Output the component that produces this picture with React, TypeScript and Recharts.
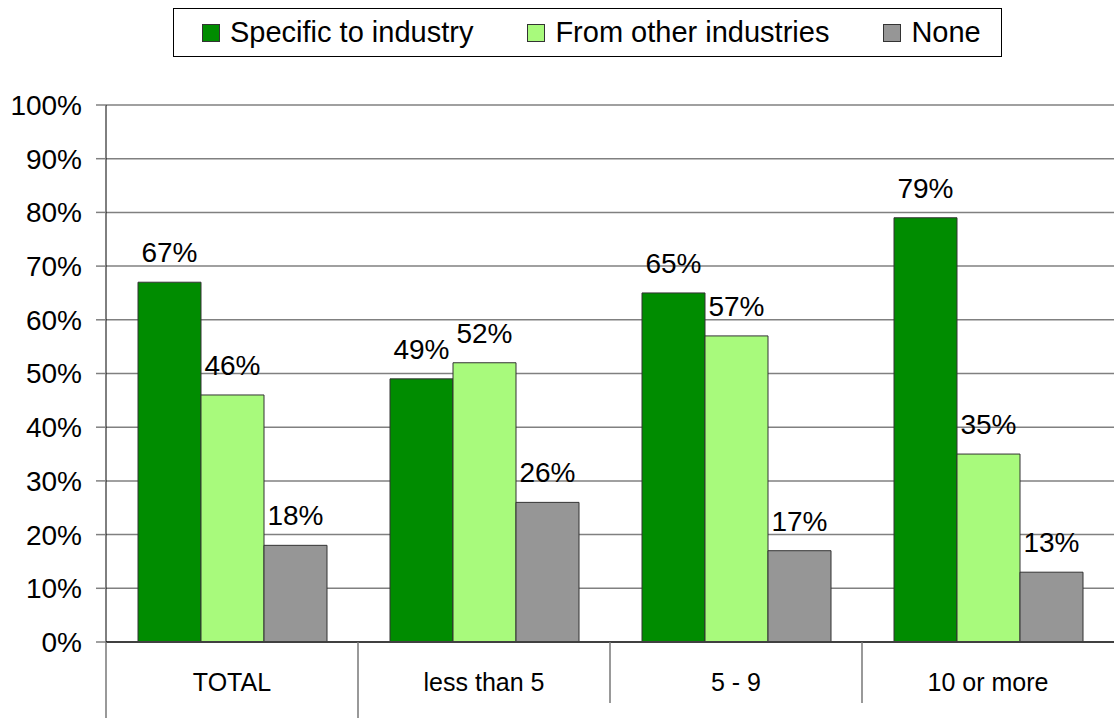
import { BarChart, Bar, XAxis, YAxis, CartesianGrid, LabelList } from 'recharts'

const categories = ['TOTAL', 'less than 5', '5 - 9', '10 or more']
const specificValues = [67, 49, 65, 79]
const otherValues = [46, 52, 57, 35]
const noneValues = [18, 26, 17, 13]
const yTicks = [0, 10, 20, 30, 40, 50, 60, 70, 80, 90, 100]

const seriesInfo = [
  { key: 'specific', name: 'Specific to industry', color: '#008c00' },
  { key: 'other', name: 'From other industries', color: '#a8fa7c' },
  { key: 'none', name: 'None', color: '#969696' },
]

const CHART_W = 1114
const CHART_H = 718
const Y_AXIS_W = 106
const FONT = '"Liberation Sans", Arial, sans-serif'

const chartData = categories.map((name, i) => ({
  name,
  specific: specificValues[i],
  other: otherValues[i],
  none: noneValues[i],
}))

const bandWidth = (CHART_W - Y_AXIS_W) / categories.length

function CategoryTick(props: any) {
  const { x, y, payload, index } = props
  const left = x - bandWidth / 2
  // first two separators run to the bottom edge, the others stop a bit shorter
  const lineLen = index < 2 ? 76 : 61
  return (
    <g>
      <line x1={left} y1={y} x2={left} y2={y + lineLen} stroke="#777" strokeWidth={1.5} />
      <text x={x} y={y + 49} textAnchor="middle" fontSize={25} fill="#000" fontFamily={FONT}>
        {payload.value}
      </text>
    </g>
  )
}

function ChartLegend() {
  return (
    <div
      style={{
        position: 'absolute',
        left: 173,
        top: 8,
        width: 829,
        height: 49,
        boxSizing: 'border-box',
        border: '1.5px solid #000',
        display: 'flex',
        alignItems: 'center',
        paddingLeft: 28,
        gap: 54,
        background: '#fff',
      }}
    >
      {seriesInfo.map(s => (
        <div key={s.key} style={{ display: 'flex', alignItems: 'center' }}>
          <div
            style={{
              width: 18,
              height: 18,
              boxSizing: 'border-box',
              background: s.color,
              border: '1.5px solid #333',
              marginRight: 10,
            }}
          />
          <span style={{ fontSize: 29, color: '#000', lineHeight: 1 }}>{s.name}</span>
        </div>
      ))}
    </div>
  )
}

export default function App() {
  return (
    <div
      style={{
        position: 'absolute',
        left: 0,
        top: 0,
        width: CHART_W,
        height: CHART_H,
        background: '#fff',
        fontFamily: FONT,
        overflow: 'hidden',
      }}
    >
      <BarChart
        width={CHART_W}
        height={CHART_H}
        data={chartData}
        margin={{ top: 105, right: 0, bottom: 0, left: 0 }}
        barCategoryGap={32}
        barGap={0}
      >
        <CartesianGrid vertical={false} stroke="#808080" strokeWidth={1.5} />
        <XAxis
          dataKey="name"
          height={76}
          axisLine={{ stroke: '#404040', strokeWidth: 2 }}
          tickLine={false}
          tickSize={0}
          tickMargin={0}
          interval={0}
          tick={<CategoryTick />}
        />
        <YAxis
          width={Y_AXIS_W}
          domain={[0, 100]}
          ticks={yTicks}
          interval={0}
          tickFormatter={(v: number) => `${v}%`}
          axisLine={{ stroke: '#000', strokeWidth: 1 }}
          tickLine={{ stroke: '#808080', strokeWidth: 1.5 }}
          tickSize={10}
          tickMargin={14}
          tick={{ fill: '#000', fontSize: 28, fontFamily: FONT }}
        />
        {seriesInfo.map(s => (
          <Bar
            key={s.key}
            dataKey={s.key}
            name={s.name}
            fill={s.color}
            stroke="#333"
            strokeWidth={1}
            isAnimationActive={false}
          >
            <LabelList
              dataKey={s.key}
              position="top"
              offset={20}
              formatter={(v: any) => `${v}%`}
              style={{ fontSize: 28, fill: '#000', fontFamily: FONT }}
            />
          </Bar>
        ))}
      </BarChart>
      <ChartLegend />
    </div>
  )
}
